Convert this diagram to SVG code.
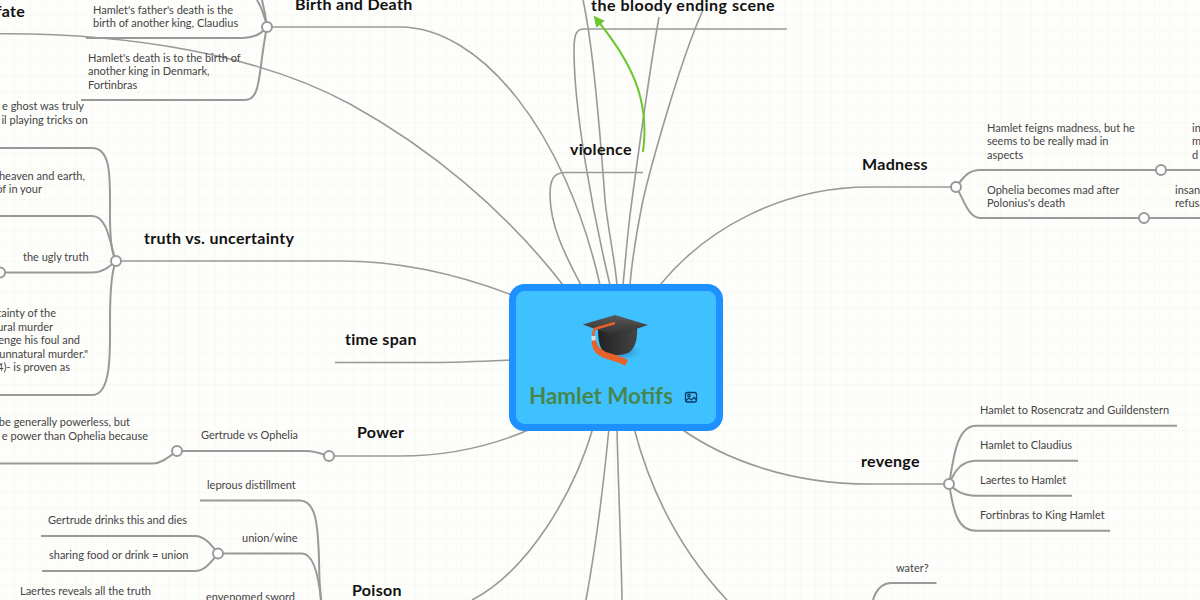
<svg xmlns="http://www.w3.org/2000/svg" width="1200" height="600" viewBox="0 0 1200 600">
<style>
.c{fill:none;stroke:#999;stroke-width:2}
.t{stroke-width:1.6}
.d{fill:#fff;stroke:#999;stroke-width:2}
text{font-family:"Lato","Noto Sans","Liberation Sans",sans-serif}
.l{font-size:11px;fill:#444}
.b{font-size:16px;font-weight:700;fill:#111;letter-spacing:.3px}
</style>
<defs>
<pattern id="grid" width="15.4" height="15.4" patternUnits="userSpaceOnUse"><path d="M15.4 0V15.4H0" fill="none" stroke="#f3f5e8" stroke-width="1"/></pattern>
<marker id="ga" viewBox="0 0 10 10" refX="8" refY="5" markerWidth="5.5" markerHeight="5.5" orient="auto-start-reverse"><path d="M0 0L10 5L0 10z" fill="#6cc72f"/></marker>
<linearGradient id="capTop" x1="0" y1="0" x2="0" y2="1"><stop offset="0" stop-color="#5a5a5a"/><stop offset="1" stop-color="#2e2e2e"/></linearGradient>
<linearGradient id="capBody" x1="0" y1="0" x2="1" y2="0"><stop offset="0" stop-color="#222"/><stop offset="1" stop-color="#444"/></linearGradient>
<radialGradient id="capShadow"><stop offset="0" stop-color="#1d5f8c" stop-opacity=".8"/><stop offset="1" stop-color="#3fc1ff" stop-opacity="0"/></radialGradient>
</defs>
<rect width="1200" height="600" fill="#fdfdfb"/>
<rect width="1200" height="600" fill="url(#grid)"/>
<g id="connectors">
<path class="c t" d="M0 33.700C130 33 260 55 350 104C430 148 505 210 563 285"/>
<path class="c t" d="M643 172.500H566C553 172.500 550 180 550 195C550 225 565 255 581 285"/>
<path class="c t" d="M267 27H400C480 27 565 130 600 285"/>
<path class="c t" d="M787 29H584C576 29 574 35 574 50C574 110 592 210 610 285"/>
<path class="c t" d="M583 0C592 40 600 130 605 200C608 230 615 260 617 285"/>
<path class="c t" d="M659 17C648 80 636 170 630 215C627 240 625 265 623 285"/>
<path class="c t" d="M703 10C680 60 650 170 643 200C637 230 632 260 630 285"/>
<path class="c t" d="M116 261H340C400 261 460 275 512 295"/>
<path class="c t" d="M335 362.500H430C460 362.500 490 361 512 360"/>
<path class="c t" d="M329 456H400C450 456 495 445 533 428"/>
<path class="c t" d="M472 600C530 570 575 490 593 428"/>
<path class="c t" d="M586 600C597 540 604 480 609 428"/>
<path class="c t" d="M622 600C621 540 618 480 617 428"/>
<path class="c t" d="M727 600C680 550 650 490 634 428"/>
<path class="c t" d="M949 484H870C790 484 725 460 680 428"/>
<path class="c t" d="M956 187H870C780 187 705 230 660 285"/>
<path class="c" d="M267 27C265 18 262 8 257 0"/>
<path class="c" d="M267 27C266 18 264 8 262 0"/>
<path class="c" d="M86 38H243C255 38 262 33 267 27"/>
<path class="c" d="M81 100H245C262 100 258 70 267 27"/>
<path class="c" d="M0 148H92C112 148 110 180 110 215C110 240 112 255 116 261"/>
<path class="c" d="M0 216H92C108 216 110 245 116 261"/>
<path class="c" d="M0 272.500H92C103 272.500 110 266 116 261"/>
<path class="c" d="M0 395H92C112 395 110 350 110 320C110 290 112 270 116 261"/>
<path class="c" d="M0 463.500H153C162 463.500 170 456 177 451"/>
<path class="c" d="M177 451H307C315 451 322 454 329 456"/>
<path class="c" d="M200 500.500H300C316 500.500 318 525 319 560C319 575 320 590 321 600"/>
<path class="c" d="M218 553.500H302C314 553.500 319 580 321 600"/>
<path class="c" d="M41 536H195C205 536 212 546 218 553.500"/>
<path class="c" d="M42 571H195C205 571 212 561 218 553.500"/>
<path class="c" d="M956 187C963 178 968 170 980 170H1200"/>
<path class="c" d="M956 187C963 197 968 218 980 218H1200"/>
<path class="c" d="M949 484C953 465 955 425.700 976 425.700H1177"/>
<path class="c" d="M949 484C955 470 962 460.700 976 460.700H1078"/>
<path class="c" d="M949 484C955 490 962 495.700 976 495.700H1072"/>
<path class="c" d="M949 484C953 505 955 530.700 976 530.700H1110"/>
<path class="c" d="M936.500 583H892C882 583 876 590 873 600"/>
<path d="M643 152C650 100 632 62 595 17.500" fill="none" stroke="#6cc72f" stroke-width="2" marker-end="url(#ga)"/>
</g>
<g id="node-fate"><text class="b" x="25" y="17" text-anchor="end">fate</text></g>
<g id="node-birth"><text class="b" x="295" y="10">Birth and Death</text><circle class="d" cx="267" cy="27" r="5"/>
<text class="l" x="93" y="14">Hamlet's father's death is the</text><text class="l" x="93" y="27">birth of another king, Claudius</text>
<text class="l" x="88" y="62">Hamlet's death is to the birth of</text><text class="l" x="88" y="75">another king in Denmark,</text><text class="l" x="88" y="89">Fortinbras</text></g>
<g id="node-ghost"><text class="l" x="84" y="110" text-anchor="end">e ghost was truly</text><text class="l" x="88" y="124" text-anchor="end">il playing tricks on</text></g>
<g id="node-truth"><text class="b" x="144" y="244">truth vs. uncertainty</text><circle class="d" cx="116" cy="261" r="5"/>
<text class="l" x="85" y="180" text-anchor="end">heaven and earth,</text><text class="l" x="42" y="193" text-anchor="end">of in your</text>
<text class="l" x="23" y="261">the ugly truth</text><circle class="d" cx="0" cy="272.500" r="5"/>
<text class="l" x="56" y="317" text-anchor="end">tainty of the</text><text class="l" x="53" y="331" text-anchor="end">ural murder</text><text class="l" x="80" y="344" text-anchor="end">enge his foul and</text><text class="l" x="88" y="358" text-anchor="end">unnatural murder."</text><text class="l" x="70" y="371" text-anchor="end">4)- is proven as</text></g>
<g id="node-time"><text class="b" x="345" y="345">time span</text></g>
<g id="node-power"><text class="b" x="357" y="438">Power</text><circle class="d" cx="329" cy="456" r="5"/>
<text class="l" x="201" y="439">Gertrude vs Ophelia</text><circle class="d" cx="177" cy="451" r="5"/>
<text class="l" x="130" y="426" text-anchor="end">be generally powerless, but</text><text class="l" x="148" y="440" text-anchor="end">e power than Ophelia because</text></g>
<g id="node-poison"><text class="b" x="352" y="596">Poison</text>
<text class="l" x="207" y="489">leprous distillment</text><text class="l" x="242" y="542">union/wine</text><circle class="d" cx="218" cy="553.500" r="5"/>
<text class="l" x="48" y="524">Gertrude drinks this and dies</text><text class="l" x="49" y="559">sharing food or drink = union</text>
<text class="l" x="20" y="595">Laertes reveals all the truth</text><text class="l" x="206" y="601">envenomed sword</text></g>
<g id="node-violence"><text class="b" x="570" y="155">violence</text></g>
<g id="node-bloody"><text class="b" x="591" y="11" style="letter-spacing:.5px">the bloody ending scene</text></g>
<g id="node-madness"><text class="b" x="862" y="170">Madness</text><circle class="d" cx="956" cy="187" r="5"/>
<text class="l" x="987" y="132">Hamlet feigns madness, but he</text><text class="l" x="987" y="145">seems to be really mad in</text><text class="l" x="987" y="159">aspects</text>
<text class="l" x="987" y="194">Ophelia becomes mad after</text><text class="l" x="987" y="207">Polonius's death</text>
<circle class="d" cx="1161" cy="170" r="5"/><circle class="d" cx="1144" cy="218" r="5"/>
<text class="l" x="1192" y="132">in</text><text class="l" x="1192" y="145">m</text><text class="l" x="1192" y="159">d</text>
<text class="l" x="1175" y="194">insan</text><text class="l" x="1175" y="207">refusa</text></g>
<g id="node-revenge"><text class="b" x="861" y="467">revenge</text><circle class="d" cx="949" cy="484" r="5"/>
<text class="l" x="980" y="414">Hamlet to Rosencratz and Guildenstern</text><text class="l" x="980" y="449">Hamlet to Claudius</text><text class="l" x="980" y="484">Laertes to Hamlet</text><text class="l" x="980" y="519">Fortinbras to King Hamlet</text></g>
<g id="node-water"><text class="l" x="896" y="572">water?</text></g>
<g id="node-center">
<rect x="512.500" y="287.500" width="207" height="140" rx="12" fill="#3fc1ff" stroke="#1e90ff" stroke-width="7"/>
<ellipse cx="622" cy="352" rx="24" ry="10" fill="url(#capShadow)"/>
<path d="M598 328H637C638 340 634 350 628 353C620 356 608 356 603 351C599 346 598 338 598 328z" fill="url(#capBody)"/>
<path d="M582.700 324.500L615 315L648 325L615 336z" fill="url(#capTop)"/>
<path d="M615 323L596 328.500Q593.500 329.500 593.500 333V342" fill="none" stroke="#e8602a" stroke-width="2.500"/>
<path d="M592 340C591 350 596 354 604 358C612 361 620 362 625 366L628 360C620 356 612 354 606 352C600 349 597 346 596 340z" fill="#e8602a"/>
<rect x="591.500" y="336" width="4" height="4.500" fill="#ddd"/>
<text x="529" y="404" font-size="22.400" font-weight="700" fill="#47874f">Hamlet Motifs</text>
<g fill="none" stroke="#0f3a66" stroke-width="1.300"><rect x="685.500" y="392.500" width="11" height="9.500" rx="2"/><circle cx="689" cy="395.500" r="1.200"/><path d="M686 400.500L689 398L691.500 400L694 397.500L696.500 400"/></g>
</g>
</svg>
